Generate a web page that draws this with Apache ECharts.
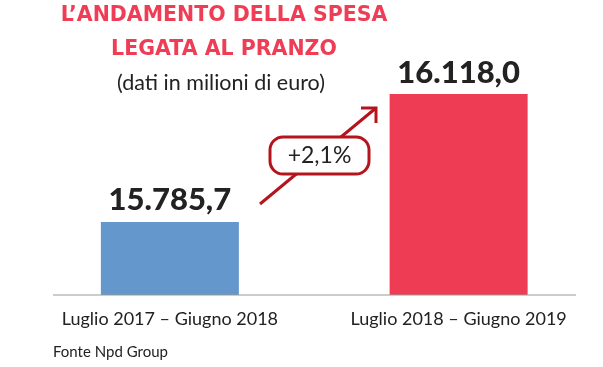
<!DOCTYPE html>
<html>
<head>
<meta charset="utf-8">
<script src="https://cdn.jsdelivr.net/npm/echarts@6/dist/echarts.min.js"></script>
<style>html,body{margin:0;padding:0;background:#fff}#c{width:603px;height:367px}</style>
</head>
<body>
<div id="c"></div>
<script>
const categories = ['Luglio 2017 \u2013 Giugno 2018', 'Luglio 2018 \u2013 Giugno 2019'];
const values = [15785.7, 16118.0];
const barColors = ['#6497CB', '#EE3C55'];
const titleLines = ['L\u2019ANDAMENTO DELLA SPESA', 'LEGATA AL PRANZO'];
const subtitle = '(dati in milioni di euro)';
const source = 'Fonte Npd Group';

function fmtIt(v, d) {
  const parts = v.toFixed(d).split('.');
  parts[0] = parts[0].replace(/\B(?=(\d{3})+(?!\d))/g, '.');
  return parts.join(',');
}
const change = (values[1] / values[0] - 1) * 100;
const changeText = '+' + fmtIt(change, 1) + '%';

const FONT = 'Lato';
const chart = echarts.init(document.getElementById('c'));
chart.setOption({
  animation: false,
  title: [
    { text: titleLines.join('\n'), left: 219, top: -6, textAlign: 'center',
      textStyle: { color: '#EE3D55', fontSize: 20.5, fontWeight: 'bold', fontFamily: 'DejaVu Sans', lineHeight: 34 } },
    { text: subtitle, left: 216, top: 67, textAlign: 'center',
      textStyle: { color: '#222', fontSize: 21.5, fontWeight: 'normal', fontFamily: FONT } },
    { text: source, left: 48, top: 340,
      textStyle: { color: '#222', fontSize: 15, fontWeight: 'normal', fontFamily: FONT } }
  ],
  grid: { left: 25.5, width: 582, top: 94, bottom: 72 },
  xAxis: {
    type: 'category', data: categories,
    axisLine: { show: false }, axisTick: { show: false },
    axisLabel: { color: '#222', fontSize: 18, fontFamily: FONT, margin: 15 }
  },
  yAxis: { type: 'value', min: 15596, max: 16118, show: false, splitLine: { show: false } },
  series: [{
    type: 'bar', barWidth: 138,
    data: values.map((v, i) => ({ value: v, itemStyle: { color: barColors[i] } })),
    label: { show: true, position: 'top', distance: 6, color: '#222', fontSize: 31, fontWeight: 900,
      fontFamily: FONT, formatter: p => fmtIt(p.value, 1) }
  }],
  graphic: [
    { type: 'line', shape: { x1: 53, y1: 295, x2: 576, y2: 295 }, style: { stroke: '#9a9a9a', lineWidth: 1.2 }, z: 10 },
    { type: 'line', shape: { x1: 260, y1: 204, x2: 376, y2: 108 }, style: { stroke: '#B5141D', lineWidth: 3 } },
    { type: 'polyline', shape: { points: [[361, 108], [376, 108], [376, 123]] }, style: { stroke: '#B5141D', lineWidth: 3, fill: null } },
    { type: 'rect', shape: { x: 270, y: 137, width: 99, height: 37, r: 13 }, style: { fill: '#fff', stroke: '#B5141D', lineWidth: 3 }, z: 20 },
    { type: 'text', x: 319.5, y: 156, style: { text: changeText, align: 'center', verticalAlign: 'middle', fill: '#222', fontSize: 23, fontFamily: FONT }, z: 21 }
  ]
});
</script>
</body>
</html>
